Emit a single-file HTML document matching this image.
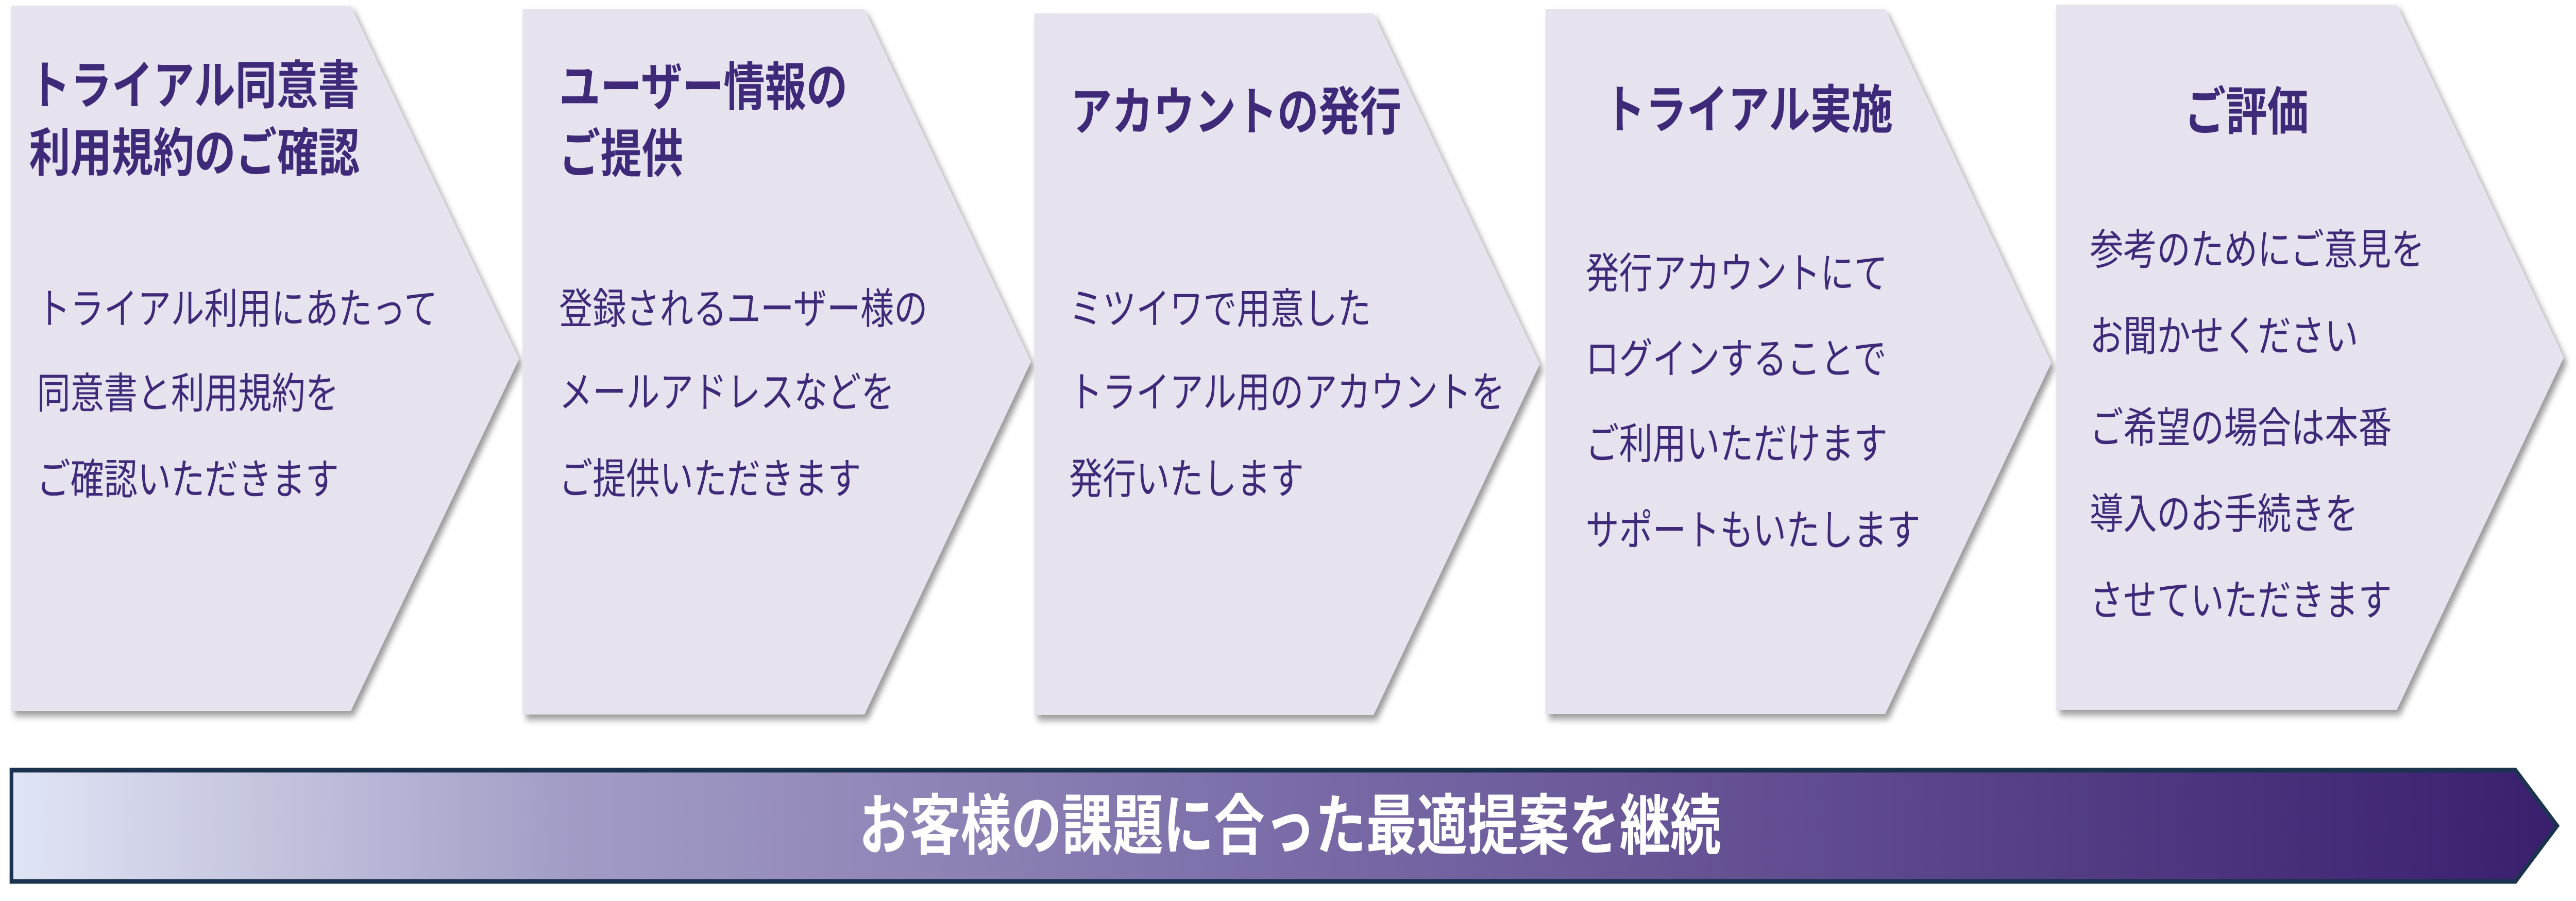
<!DOCTYPE html>
<html><head><meta charset="utf-8"><style>
html,body{margin:0;padding:0;background:#fff;width:100vw;height:100vh;overflow:hidden;}
svg{display:block;width:100vw;height:100vh;}
text{font-family:"Liberation Sans","Noto Sans CJK JP",sans-serif;}
.t{font-size:101px;font-weight:bold;fill:#3f2a7a;}
.b{font-size:82px;fill:#3f2a7a;}
</style></head><body>
<svg viewBox="0 0 6294 1749" preserveAspectRatio="none" xmlns="http://www.w3.org/2000/svg">
<defs>
<filter id="sh" x="-5%" y="-5%" width="115%" height="115%">
<feDropShadow dx="8" dy="10" stdDeviation="7" flood-color="#000" flood-opacity="0.4"/>
</filter>
<linearGradient id="g" x1="0" x2="1" y1="0" y2="0">
<stop offset="0" stop-color="#e0e5f4"/>
<stop offset="0.22" stop-color="#a29cc5"/>
<stop offset="0.5" stop-color="#7b6ca8"/>
<stop offset="1" stop-color="#3a1f6e"/>
</linearGradient>
</defs>
<g fill="#e6e3ef" filter="url(#sh)">
<polygon points="27,11 857,11 1268,697 857,1380 27,1380"/>
<polygon points="1277,18 2112,18 2519,702 2112,1387 1277,1387"/>
<polygon points="2527,26 3356,26 3762,707 3356,1388 2527,1388"/>
<polygon points="3776,18 4606,18 5012,704 4606,1386 3776,1386"/>
<polygon points="5024,9 5856,9 6264,694 5856,1378 5024,1378"/>
</g>
<polygon points="28,1495 6146,1495 6248,1603 6146,1711 28,1711" fill="url(#g)" stroke="#1c3350" stroke-width="9" stroke-linejoin="miter"/>
<g dominant-baseline="central">
<text class="t" x="71" y="167">トライアル同意書</text>
<text class="t" x="71" y="298">利用規約のご確認</text>
<text class="b" x="90" y="600">トライアル利用にあたって</text>
<text class="b" x="90" y="764">同意書と利用規約を</text>
<text class="b" x="90" y="931">ご確認いただきます</text>

<text class="t" x="1366" y="170">ユーザー情報の</text>
<text class="t" x="1366" y="300">ご提供</text>
<text class="b" x="1366" y="600">登録されるユーザー様の</text>
<text class="b" x="1366" y="762">メールアドレスなどを</text>
<text class="b" x="1366" y="930">ご提供いただきます</text>

<text class="t" x="2616" y="218">アカウントの発行</text>
<text class="b" x="2612" y="600">ミツイワで用意した</text>
<text class="b" x="2612" y="762">トライアル用のアカウントを</text>
<text class="b" x="2612" y="930">発行いたします</text>

<text class="t" x="3919" y="214">トライアル実施</text>
<text class="b" x="3874" y="531">発行アカウントにて</text>
<text class="b" x="3874" y="697">ログインすることで</text>
<text class="b" x="3874" y="862">ご利用いただけます</text>
<text class="b" x="3874" y="1030">サポートもいたします</text>

<text class="t" x="5489" y="218" text-anchor="middle">ご評価</text>
<text class="b" x="5106" y="485">参考のためにご意見を</text>
<text class="b" x="5106" y="653">お聞かせください</text>
<text class="b" x="5106" y="831">ご希望の場合は本番</text>
<text class="b" x="5106" y="998">導入のお手続きを</text>
<text class="b" x="5106" y="1166">させていただきます</text>

<text x="3152" y="1604" text-anchor="middle" font-size="128" font-weight="bold" fill="#fff" textLength="2106" lengthAdjust="spacingAndGlyphs">お客様の課題に合った最適提案を継続</text>
</g>
</svg>
</body></html>
